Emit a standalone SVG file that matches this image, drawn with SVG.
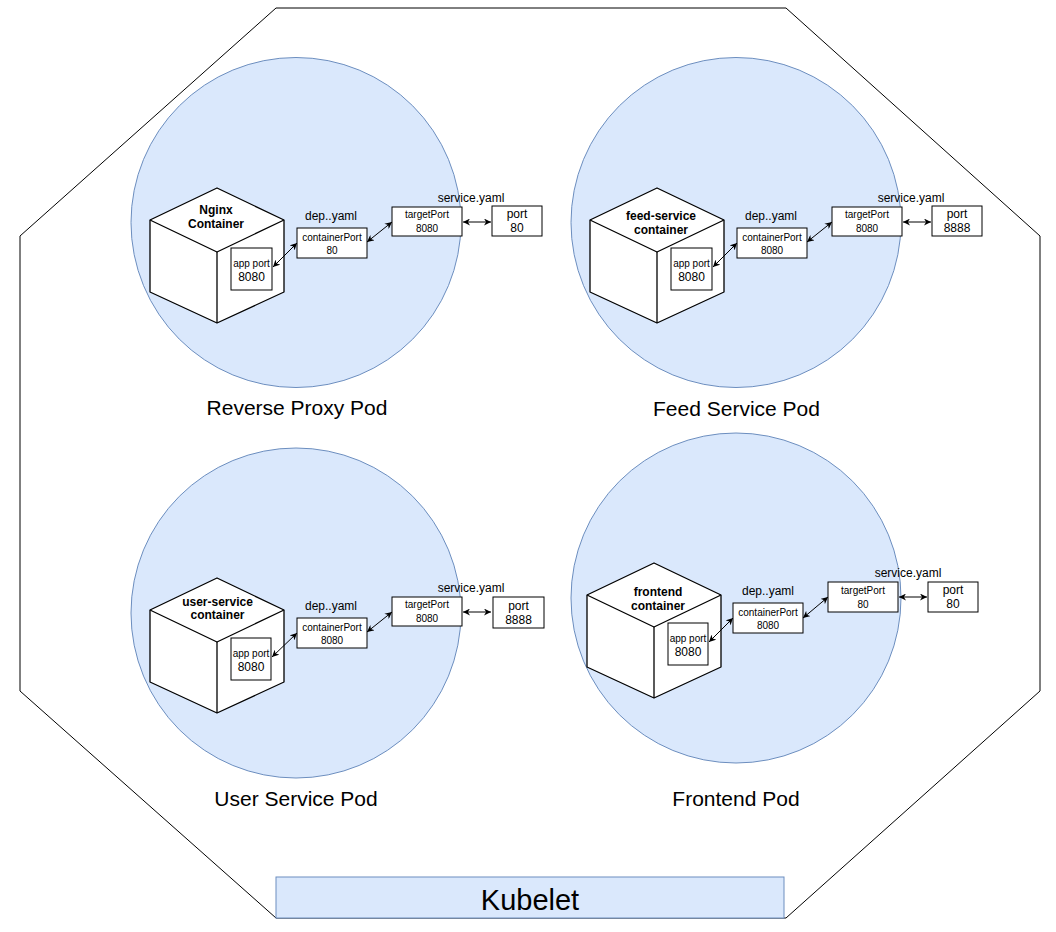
<svg xmlns="http://www.w3.org/2000/svg" width="1056" height="932" viewBox="0 0 1056 932">
<style>
text{font-family:"Liberation Sans",Arial,sans-serif;fill:#000}
.pod{fill:#dae8fc;stroke:#6c8ebf;stroke-width:1}
.cube{fill:#fff;stroke:#000;stroke-width:1.3;stroke-linejoin:round}
.box{fill:#fff;stroke:#000;stroke-width:1}
.ct{font-size:12px;font-weight:bold;text-anchor:middle}
.s{font-size:10px;text-anchor:middle}
.m{font-size:12px;text-anchor:middle}
.lbl{font-size:21px;text-anchor:middle}
.conn{stroke:#000;stroke-width:1;fill:none;marker-start:url(#arr);marker-end:url(#arr)}
</style>
<defs>
<marker id="arr" viewBox="0 0 10 10" refX="10" refY="5" markerWidth="7" markerHeight="7" markerUnits="userSpaceOnUse" orient="auto-start-reverse">
<path d="M0,0 L10,5 L0,10 L3,5 z" fill="#000"/>
</marker>
</defs>
<rect x="0" y="0" width="1056" height="932" fill="#fff"/>
<g id="node-cluster">
<polygon points="276,8 786,8 1040,236 1040,691 786,918 276,918 20,691 20,236" fill="#fff" stroke="#000" stroke-width="1"/>
</g>
<g id="node-kubelet">
<rect x="276" y="877" width="508" height="41" fill="#dae8fc" stroke="#6c8ebf" stroke-width="1"/>
<text x="530" y="910" style="font-size:29px;text-anchor:middle">Kubelet</text>
</g>

<!-- Pod 1 -->
<g id="node-reverse-proxy-pod">
<circle class="pod" cx="296" cy="222.5" r="165"/>
<text class="lbl" x="297" y="415">Reverse Proxy Pod</text>
</g>
<g id="node-nginx-container">
<polygon class="cube" points="217,188 284,220 284,292 217,323 150,292 150,220"/>
<polyline class="cube" fill="none" points="150,220 217,252 284,220"/>
<line class="cube" x1="217" y1="252" x2="217" y2="323"/>
<text class="ct" x="216" y="214">Nginx</text>
<text class="ct" x="216" y="228">Container</text>
</g>
<g id="node-app-port-1">
<rect class="box" x="231" y="248" width="41" height="42"/>
<text class="s" x="251.5" y="267">app port</text>
<text class="m" x="251.5" y="281">8080</text>
</g>
<g id="node-container-port-1">
<text class="m" x="331" y="220">dep..yaml</text>
<rect class="box" x="297" y="228" width="70" height="30"/>
<text class="s" x="332" y="241">containerPort</text>
<text class="s" x="332" y="254">80</text>
</g>
<g id="node-target-port-1">
<text class="m" x="471" y="202">service.yaml</text>
<rect class="box" x="392" y="207" width="70" height="29"/>
<text class="s" x="427" y="218">targetPort</text>
<text class="s" x="427" y="232">8080</text>
</g>
<g id="node-port-1">
<rect class="box" x="492" y="206" width="50" height="30"/>
<text class="m" x="517" y="218">port</text>
<text class="m" x="517" y="232">80</text>
</g>

<!-- Pod 2 -->
<g id="node-feed-service-pod">
<circle class="pod" cx="736" cy="222.5" r="165"/>
<text class="lbl" x="736.5" y="416">Feed Service Pod</text>
</g>
<g id="node-feed-service-container">
<polygon class="cube" points="657,188 724,220 724,292 657,323 590,292 590,220"/>
<polyline class="cube" fill="none" points="590,220 657,252 724,220"/>
<line class="cube" x1="657" y1="252" x2="657" y2="323"/>
<text class="ct" x="661" y="220">feed-service</text>
<text class="ct" x="661" y="234">container</text>
</g>
<g id="node-app-port-2">
<rect class="box" x="671" y="248" width="41" height="42"/>
<text class="s" x="691.5" y="267">app port</text>
<text class="m" x="691.5" y="281">8080</text>
</g>
<g id="node-container-port-2">
<text class="m" x="771" y="220">dep..yaml</text>
<rect class="box" x="737" y="228" width="70" height="30"/>
<text class="s" x="772" y="241">containerPort</text>
<text class="s" x="772" y="254">8080</text>
</g>
<g id="node-target-port-2">
<text class="m" x="911" y="202">service.yaml</text>
<rect class="box" x="832" y="207" width="70" height="29"/>
<text class="s" x="867" y="218">targetPort</text>
<text class="s" x="867" y="232">8080</text>
</g>
<g id="node-port-2">
<rect class="box" x="932" y="206" width="50" height="30"/>
<text class="m" x="957" y="218">port</text>
<text class="m" x="957" y="232">8888</text>
</g>

<!-- Pod 3 -->
<g id="node-user-service-pod">
<circle class="pod" cx="296" cy="613" r="165"/>
<text class="lbl" x="296" y="806">User Service Pod</text>
</g>
<g id="node-user-service-container">
<polygon class="cube" points="217,578 284,610 284,682 217,713 150,682 150,610"/>
<polyline class="cube" fill="none" points="150,610 217,642 284,610"/>
<line class="cube" x1="217" y1="642" x2="217" y2="713"/>
<text class="ct" x="217.5" y="606">user-service</text>
<text class="ct" x="217.5" y="619">container</text>
</g>
<g id="node-app-port-3">
<rect class="box" x="231" y="638" width="40" height="42"/>
<text class="s" x="251" y="657">app port</text>
<text class="m" x="251" y="671">8080</text>
</g>
<g id="node-container-port-3">
<text class="m" x="331" y="610">dep..yaml</text>
<rect class="box" x="297" y="618" width="70" height="30"/>
<text class="s" x="332" y="631">containerPort</text>
<text class="s" x="332" y="644">8080</text>
</g>
<g id="node-target-port-3">
<text class="m" x="471" y="592">service.yaml</text>
<rect class="box" x="392" y="597" width="70" height="29"/>
<text class="s" x="427" y="608">targetPort</text>
<text class="s" x="427" y="622">8080</text>
</g>
<g id="node-port-3">
<rect class="box" x="493" y="597" width="51" height="31"/>
<text class="m" x="518.5" y="610">port</text>
<text class="m" x="518.5" y="624">8888</text>
</g>

<!-- Pod 4 -->
<g id="node-frontend-pod">
<circle class="pod" cx="736" cy="598" r="165"/>
<text class="lbl" x="736" y="806">Frontend Pod</text>
</g>
<g id="node-frontend-container">
<polygon class="cube" points="654,563 721,595 721,667 654,698 587,667 587,595"/>
<polyline class="cube" fill="none" points="587,595 654,627 721,595"/>
<line class="cube" x1="654" y1="627" x2="654" y2="698"/>
<text class="ct" x="658" y="596">frontend</text>
<text class="ct" x="658" y="610">container</text>
</g>
<g id="node-app-port-4">
<rect class="box" x="668" y="623" width="40" height="42"/>
<text class="s" x="688" y="642">app port</text>
<text class="m" x="688" y="656">8080</text>
</g>
<g id="node-container-port-4">
<text class="m" x="768" y="595">dep..yaml</text>
<rect class="box" x="733" y="603" width="70" height="30"/>
<text class="s" x="768" y="616">containerPort</text>
<text class="s" x="768" y="629">8080</text>
</g>
<g id="node-target-port-4">
<text class="m" x="908" y="577">service.yaml</text>
<rect class="box" x="828" y="582" width="70" height="30"/>
<text class="s" x="863" y="594">targetPort</text>
<text class="s" x="863" y="608">80</text>
</g>
<g id="node-port-4">
<rect class="box" x="928" y="582" width="50" height="30"/>
<text class="m" x="953" y="594">port</text>
<text class="m" x="953" y="608">80</text>
</g>

<g id="connectors">
<line class="conn" x1="273" y1="267" x2="297" y2="243"/>
<line class="conn" x1="367" y1="242" x2="392" y2="222"/>
<line class="conn" x1="463" y1="222" x2="491" y2="222"/>

<line class="conn" x1="713" y1="267" x2="737" y2="243"/>
<line class="conn" x1="807" y1="242" x2="832" y2="222"/>
<line class="conn" x1="903" y1="222" x2="931" y2="222"/>

<line class="conn" x1="272" y1="657" x2="297" y2="633"/>
<line class="conn" x1="367" y1="632" x2="392" y2="612"/>
<line class="conn" x1="463" y1="612" x2="491" y2="612"/>

<line class="conn" x1="709" y1="642" x2="733" y2="618"/>
<line class="conn" x1="803" y1="618" x2="828" y2="597"/>
<line class="conn" x1="899" y1="597" x2="927" y2="597"/>
</g>
</svg>
